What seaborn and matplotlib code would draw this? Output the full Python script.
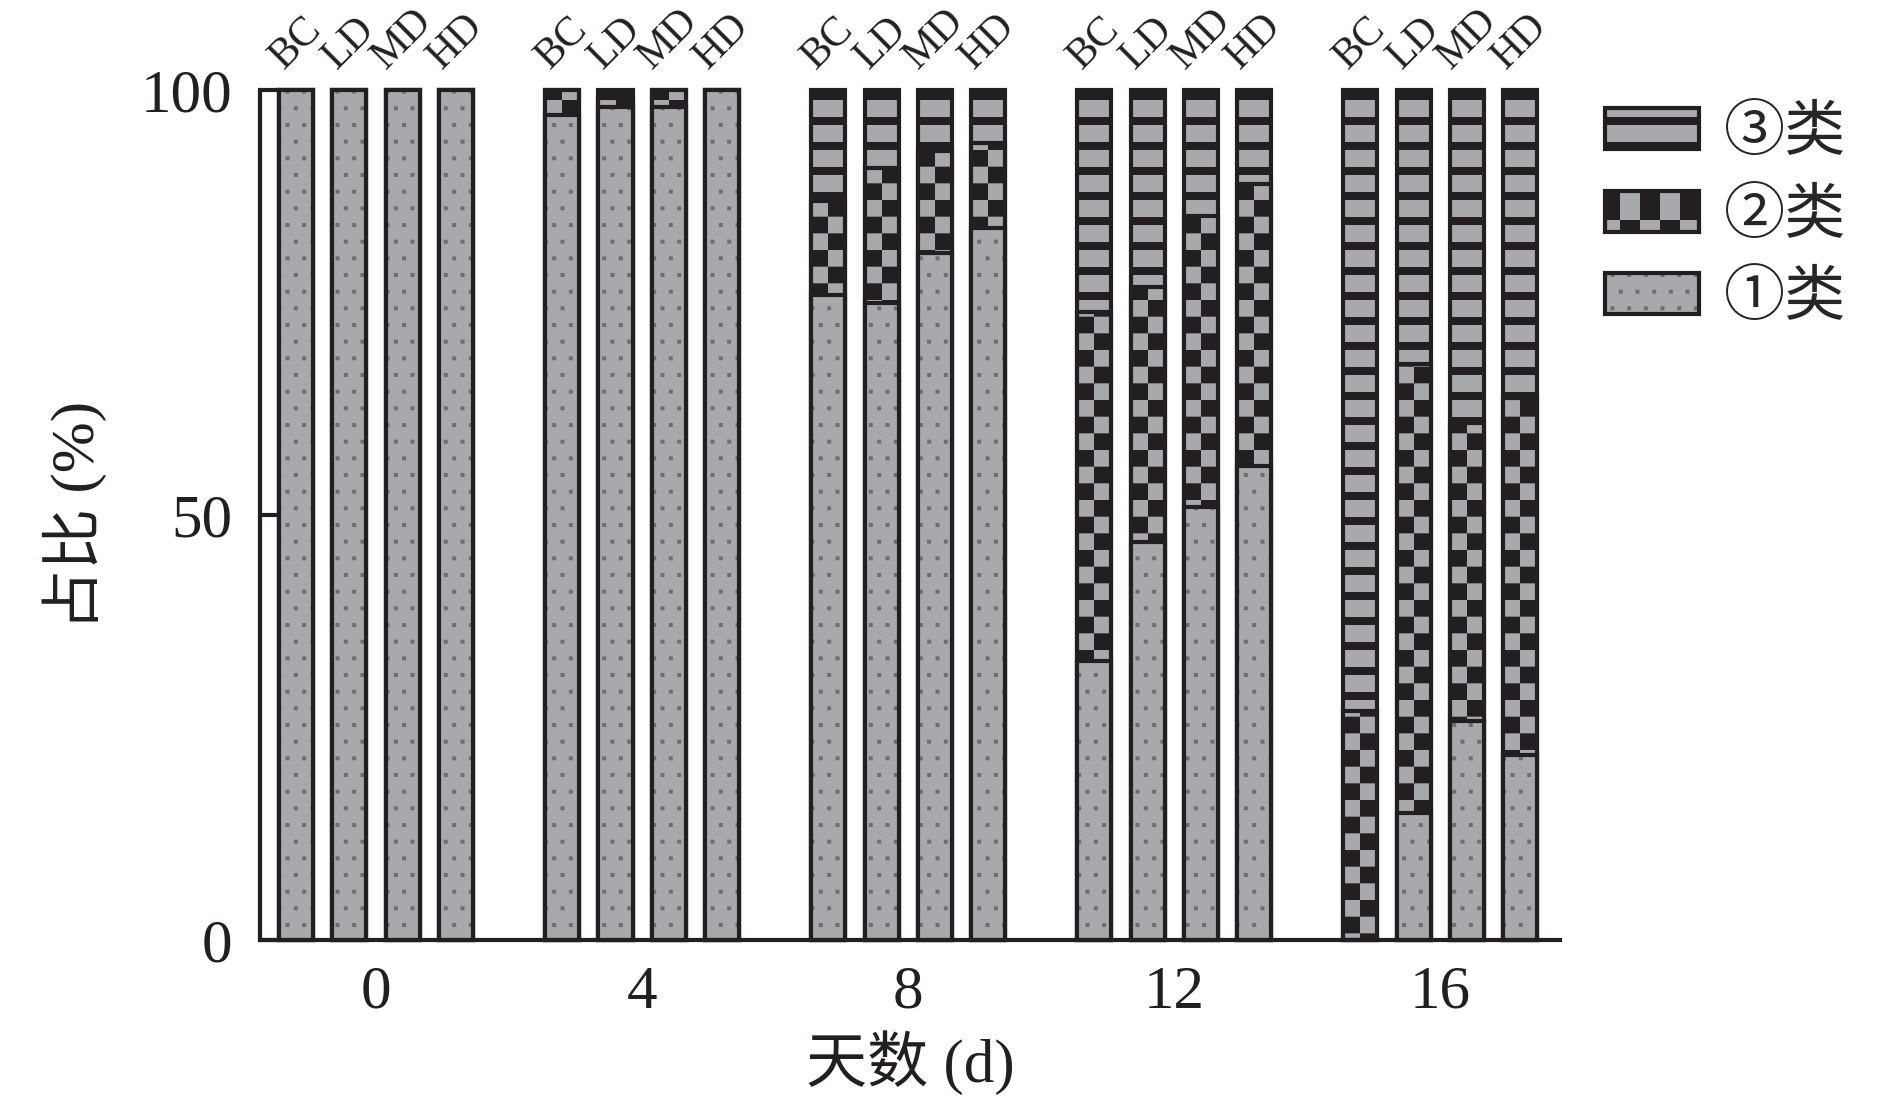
import matplotlib
matplotlib.use("Agg")
import matplotlib.pyplot as plt
import matplotlib.hatch as mhatch
from matplotlib.path import Path
from matplotlib.patches import Rectangle, Patch
import seaborn as sns
import pandas as pd

# ---- data ----
days = ['0', '4', '8', '12', '16']
groups = ['BC', 'LD', 'MD', 'HD']
# rows = days, columns = groups, values in %
class1 = [[100, 100, 100, 100],
          [97.0, 98.0, 98.0, 100],
          [75.9, 74.9, 80.8, 83.8],
          [32.8, 46.8, 50.9, 55.8],
          [0.0, 14.9, 25.8, 21.8]]
class2 = [[0, 0, 0, 0],
          [3.0, 1.1, 2.0, 0],
          [11.0, 15.9, 12.0, 10.0],
          [41.1, 30.0, 34.3, 33.1],
          [26.9, 52.9, 35.0, 42.0]]
class3 = [[0, 0, 0, 0],
          [0, 0.9, 0, 0],
          [13.1, 9.2, 7.2, 6.2],
          [26.1, 23.2, 14.8, 11.1],
          [73.1, 32.2, 39.2, 36.2]]
legend_labels = ['③类', '②类', '①类']

GRAY = '#a7a9ac'
BLACK = '#231f20'
DOT = '#6d6e71'


# ---- custom hatch patterns (filled rectangles in the 1-inch hatch tile) ----
class RectHatch(mhatch.HatchPatternBase):
    char = None

    def __init__(self, hatch, density):
        self.rects = self.cells() if self.char in hatch else []
        self.num_vertices = 5 * len(self.rects)

    def set_vertices_and_codes(self, vertices, codes):
        for i, (x0, y0, x1, y1) in enumerate(self.rects):
            vertices[5 * i:5 * i + 5] = [(x0, y0), (x1, y0), (x1, y1), (x0, y1), (x0, y0)]
            codes[5 * i:5 * i + 5] = [Path.MOVETO, Path.LINETO, Path.LINETO,
                                      Path.LINETO, Path.CLOSEPOLY]


class Stripes(RectHatch):      # ③ horizontal black stripes
    char = 's'

    def cells(self):
        return [(-0.01, k / 4, 1.01, k / 4 + 0.08) for k in range(4)]


class BandLow(RectHatch):      # left half of the checker
    char = 'a'

    def cells(self):
        return [(-0.01, k / 3, 1.01, k / 3 + 1 / 6) for k in range(3)]


class BandHigh(RectHatch):     # right half of the checker
    char = 'b'

    def cells(self):
        return [(-0.01, k / 3 + 1 / 6, 1.01, (k + 1) / 3) for k in range(3)]


class Checker(RectHatch):      # full checker, for the legend
    char = 'k'

    def cells(self):
        return [(i / 5, j / 5, (i + 1) / 5, (j + 1) / 5)
                for i in range(5) for j in range(5) if (i + j) % 2 == 0]


class Dots(RectHatch):         # ① staggered small squares
    char = 'd'

    def cells(self):
        out = []
        for r in range(6):
            y = (r + 0.5) / 6
            for c in range(6):
                x = (c + 0.25 + 0.5 * (r % 2)) / 6
                out.append((x - 0.02, y - 0.02, x + 0.02, y + 0.02))
        return out


mhatch._hatch_types.extend([Stripes, BandLow, BandHigh, Checker, Dots])
mhatch._validate_hatch_pattern = lambda hatch: None

# ---- long table ----
rows = []
for i, d in enumerate(days):
    for j, g in enumerate(groups):
        c1, c2, c3 = class1[i][j], class2[i][j], class3[i][j]
        rows.append({'day': d, 'group': g, 'top1': c1, 'top2': c1 + c2, 'top3': c1 + c2 + c3})
df = pd.DataFrame(rows)

sns.set_style('ticks')
plt.rcParams['font.family'] = ['Liberation Serif', 'Noto Sans CJK SC']
plt.rcParams['hatch.linewidth'] = 0.0

fig = plt.figure(figsize=(18.9, 11.11), dpi=100)
ax = fig.add_axes([0.1376, 0.1539, 0.6878, 0.7651])


def bars(col):
    n0 = len(ax.patches)
    sns.barplot(data=df, x='day', y=col, hue='group', order=days, hue_order=groups,
                palette={g: GRAY for g in groups}, saturation=1, width=0.8, gap=0.36,
                errorbar=None, legend=False, ax=ax)
    return ax.patches[n0:]


def fill_layer(col, hatch, hcolor):
    new = bars(col)
    for p in new:
        p.set_facecolor(GRAY)
        p.set_edgecolor(hcolor)
        p.set_linewidth(0)
        p.set_hatch(hatch)
        p.set_clip_on(False)
    return new


def edge_layer(col):
    new = bars(col)
    for p in new:
        p.set_facecolor('none')
        p.set_edgecolor(BLACK)
        p.set_linewidth(3)
        p.set_clip_on(False)
    return new


# stacked by overlay: top class first
fill_layer('top3', 's', BLACK)
edge_layer('top3')
mid = fill_layer('top2', 'a', BLACK)
for p in mid:
    x, y, w, h = p.get_x(), p.get_y(), p.get_width(), p.get_height()
    ax.add_patch(Rectangle((x + w / 2, y), w / 2, h, facecolor=GRAY, edgecolor=BLACK,
                           linewidth=0, hatch='b', clip_on=False))
edge_layer('top2')
fill_layer('top1', 'd', DOT)
low = edge_layer('top1')

# group names above every bar
for k, p in enumerate(sorted(low, key=lambda r: r.get_x())):
    ax.text(p.get_x() + p.get_width() / 2, 101.6, groups[k % 4], rotation=45,
            ha='center', va='bottom', fontsize=30, color=BLACK, clip_on=False)

ax.set_xlim(-0.436, 4.45)
ax.set_ylim(0, 100)
ax.set_yticks([0, 50, 100])
sns.despine(ax=ax)
for s in ['left', 'bottom']:
    ax.spines[s].set_linewidth(3)
    ax.spines[s].set_color(BLACK)
ax.tick_params(axis='y', direction='in', length=14, width=3, color=BLACK,
               labelsize=44, pad=20, labelcolor=BLACK)
ax.tick_params(axis='x', length=0, labelsize=44, pad=18, labelcolor=BLACK)
ax.set_ylabel('占比 (%)', fontsize=44, color=BLACK)
ax.set_xlabel('天数 (d)', fontsize=44, color=BLACK)
ax.yaxis.set_label_coords(-0.118, 0.5)
ax.xaxis.set_label_coords(0.5, -0.106)

handles = []
for hatch, hc in [('s', BLACK), ('k', BLACK), ('d', DOT)]:
    handles.append((Patch(facecolor=GRAY, edgecolor=hc, linewidth=0, hatch=hatch),
                    Patch(facecolor='none', edgecolor=BLACK, linewidth=3)))
fig.legend(handles, legend_labels, loc='upper left',
           bbox_to_anchor=(1605 / 1890, 1 - 106 / 1111), frameon=False, fontsize=44,
           handlelength=1.54, handleheight=0.65, handletextpad=0.4,
           labelspacing=0.42, borderpad=0, borderaxespad=0)

fig.savefig('out.png', dpi=100)
